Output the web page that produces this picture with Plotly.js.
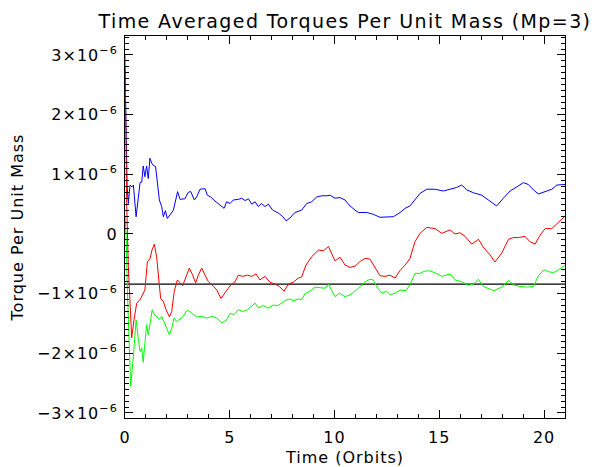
<!DOCTYPE html>
<html>
<head>
<meta charset="utf-8">
<script src="https://cdn.plot.ly/plotly-3.0.1.min.js"></script>
<style>
html,body{margin:0;padding:0;background:#fff;}
#chart{width:592px;height:467px;}
#chart text{letter-spacing:1px;}
#chart .gtitle{letter-spacing:1.4px;}
</style>
</head>
<body>
<div id="chart"></div>
<script>
// Torque values are in units of 1e-6 (axis labels carry the x10^-6)
const blueTime = [
  0, 0.05, 0.10, 0.16, 0.24, 0.33, 0.40, 0.53, 0.64, 0.72,
  0.80, 0.87, 0.95, 1.03, 1.11, 1.19, 1.27, 1.35, 1.46, 1.54,
  1.64, 1.75, 1.83, 1.93, 2.02, 2.15, 2.31, 2.42, 2.51, 2.63,
  2.86, 3.02, 3.14, 3.31, 3.42, 3.58, 3.82, 3.93, 4.09, 4.30,
  4.53, 4.73, 4.85, 5.01, 5.17, 5.41, 5.57, 5.73, 5.89, 6.05,
  6.21, 6.36, 6.52, 6.68, 6.84, 7.05, 7.32, 7.53, 7.69, 7.88,
  8.11, 8.43, 8.67, 8.91, 9.15, 9.39, 9.63, 9.79, 10.02, 10.26,
  10.50, 10.74, 10.98, 11.14, 11.54, 11.85, 12.17, 12.49, 12.81, 13.13,
  13.37, 13.60, 13.84, 14.08, 14.40, 14.80, 15.19, 15.59, 15.83, 16.07,
  16.31, 16.63, 17.03, 17.34, 17.74, 18.06, 18.38, 18.70, 19.01, 19.25,
  19.49, 19.73, 20.05, 20.37, 20.61, 21.00
];
const blueTorque = [
  2.80, 1.90, 0.80, 0.51, 0.82, 0.79, 0.82, 0.29, 0.65, 0.86,
  0.87, 1.14, 0.96, 1.14, 0.93, 1.27, 1.19, 1.15, 1.13, 0.90,
  0.57, 0.46, 0.29, 0.39, 0.26, 0.32, 0.40, 0.57, 0.71, 0.58,
  0.59, 0.70, 0.71, 0.57, 0.62, 0.75, 0.76, 0.65, 0.62, 0.55,
  0.48, 0.43, 0.54, 0.51, 0.57, 0.58, 0.60, 0.56, 0.59, 0.50,
  0.54, 0.46, 0.51, 0.46, 0.50, 0.40, 0.35, 0.29, 0.22, 0.27,
  0.36, 0.40, 0.51, 0.54, 0.62, 0.64, 0.64, 0.65, 0.60, 0.61,
  0.57, 0.47, 0.40, 0.36, 0.36, 0.33, 0.28, 0.28, 0.29, 0.36,
  0.43, 0.47, 0.57, 0.68, 0.75, 0.75, 0.72, 0.76, 0.78, 0.82,
  0.74, 0.69, 0.65, 0.57, 0.47, 0.60, 0.72, 0.79, 0.86, 0.83,
  0.74, 0.67, 0.71, 0.75, 0.82, 0.83
];
const redTime = [
  0, 0.03, 0.08, 0.16, 0.27, 0.32, 0.43, 0.56, 0.72, 0.83,
  0.95, 1.07, 1.19, 1.29, 1.40, 1.51, 1.61, 1.70, 1.83, 1.96,
  2.12, 2.23, 2.35, 2.50, 2.63, 2.75, 2.91, 3.07, 3.23, 3.37,
  3.50, 3.66, 3.82, 3.98, 4.21, 4.38, 4.58, 4.77, 5.01, 5.25,
  5.41, 5.62, 5.84, 6.05, 6.25, 6.44, 6.68, 6.92, 7.16, 7.37,
  7.59, 7.80, 8.03, 8.27, 8.43, 8.64, 8.91, 9.23, 9.47, 9.71,
  9.87, 10.02, 10.26, 10.50, 10.74, 10.98, 11.22, 11.46, 11.69, 11.93,
  12.17, 12.41, 12.65, 12.89, 13.13, 13.37, 13.60, 13.84, 14.08, 14.40,
  14.80, 15.12, 15.51, 15.75, 15.99, 16.23, 16.55, 16.87, 17.10, 17.42,
  17.66, 17.98, 18.30, 18.54, 18.77, 19.09, 19.33, 19.57, 19.81, 20.05,
  20.37, 20.61, 21.00
];
const redTorque = [
  3.00, 2.00, 0.50, -0.55, -1.27, -1.74, -1.44, -1.16, -1.10, -1.02,
  -0.94, -0.46, -0.42, -0.27, -0.17, -0.38, -0.82, -1.08, -1.13, -1.27,
  -1.39, -1.30, -0.96, -0.77, -0.82, -0.87, -0.72, -0.57, -0.69, -0.82,
  -0.69, -0.57, -0.69, -0.80, -0.87, -0.94, -1.08, -0.99, -0.87, -0.80,
  -0.69, -0.71, -0.69, -0.71, -0.67, -0.77, -0.71, -0.81, -0.84, -0.88,
  -0.96, -0.84, -0.81, -0.74, -0.72, -0.52, -0.38, -0.27, -0.28, -0.21,
  -0.35, -0.45, -0.39, -0.52, -0.56, -0.54, -0.46, -0.41, -0.42, -0.57,
  -0.70, -0.71, -0.69, -0.74, -0.61, -0.52, -0.41, -0.13, 0.01, 0.11,
  0.09, 0.01, 0.07, 0.00, 0.02, -0.04, -0.17, -0.09, -0.22, -0.35,
  -0.47, -0.32, -0.09, -0.06, -0.06, -0.04, -0.13, -0.17, -0.02, 0.09,
  0.09, 0.17, 0.30
];
const greenTime = [
  0, 0.05, 0.12, 0.20, 0.27, 0.40, 0.53, 0.64, 0.72, 0.80,
  0.87, 0.95, 1.03, 1.11, 1.19, 1.30, 1.40, 1.51, 1.64, 1.75,
  1.86, 1.99, 2.12, 2.23, 2.34, 2.47, 2.63, 2.78, 2.95, 3.10,
  3.26, 3.45, 3.66, 3.90, 4.14, 4.38, 4.62, 4.85, 5.01, 5.20,
  5.41, 5.62, 5.84, 6.21, 6.36, 6.60, 6.84, 7.08, 7.27, 7.48,
  7.72, 7.88, 8.03, 8.27, 8.43, 8.59, 8.83, 9.07, 9.31, 9.55,
  9.71, 9.87, 10.02, 10.23, 10.50, 10.74, 10.98, 11.22, 11.46, 11.69,
  11.85, 12.01, 12.25, 12.49, 12.65, 12.89, 13.13, 13.41, 13.60, 13.84,
  14.08, 14.32, 14.56, 14.80, 15.12, 15.51, 15.75, 16.07, 16.39, 16.63,
  16.87, 17.10, 17.34, 17.61, 17.98, 18.30, 18.54, 18.85, 19.17, 19.49,
  19.73, 20.00, 20.21, 20.45, 20.69, 21.00
];
const greenTorque = [
  0.30, 0.00, -1.00, -2.00, -2.55, -2.05, -1.44, -1.77, -1.97, -1.91,
  -2.15, -1.83, -1.52, -1.69, -1.52, -1.27, -1.35, -1.39, -1.43, -1.38,
  -1.47, -1.58, -1.69, -1.58, -1.41, -1.47, -1.43, -1.38, -1.28, -1.30,
  -1.35, -1.39, -1.38, -1.41, -1.38, -1.41, -1.49, -1.44, -1.33, -1.35,
  -1.27, -1.30, -1.27, -1.16, -1.24, -1.20, -1.24, -1.19, -1.20, -1.16,
  -1.10, -1.09, -1.12, -1.09, -1.10, -1.00, -0.96, -0.89, -0.90, -0.91,
  -0.84, -0.96, -1.05, -0.99, -1.05, -1.02, -0.96, -0.88, -0.80, -0.76,
  -0.77, -0.88, -0.99, -0.96, -1.02, -0.99, -0.94, -0.95, -0.85, -0.66,
  -0.66, -0.62, -0.62, -0.65, -0.71, -0.67, -0.77, -0.80, -0.86, -0.84,
  -0.76, -0.88, -0.91, -0.95, -0.89, -0.78, -0.85, -0.88, -0.89, -0.88,
  -0.70, -0.60, -0.63, -0.65, -0.60, -0.53
];
const refTime = [0, 21];
const refTorque = [-0.84, -0.84];

const xTickVals = [0, 5, 10, 15, 20];
const xTickText = ['0', '5', '10', '15', '20'];
const yTickVals = [-3, -2, -1, 0, 1, 2, 3];
const yTickText = ['\u22123\u00d710<sup>\u22126</sup>', '\u22122\u00d710<sup>\u22126</sup>', '\u22121\u00d710<sup>\u22126</sup>', '0',
                   '1\u00d710<sup>\u22126</sup>', '2\u00d710<sup>\u22126</sup>', '3\u00d710<sup>\u22126</sup>'];

const FONT = 'DejaVu Sans, sans-serif';
const traces = [
  {x: refTime, y: refTorque, mode: 'lines', line: {color: '#000000', width: 1.1}, hoverinfo: 'skip'},
  {x: blueTime, y: blueTorque, mode: 'lines', line: {color: '#0000ff', width: 1}},
  {x: greenTime, y: greenTorque, mode: 'lines', line: {color: '#00ff00', width: 1}},
  {x: redTime, y: redTorque, mode: 'lines', line: {color: '#ff0000', width: 1}}
];

const layout = {
  width: 592, height: 467,
  margin: {l: 125, r: 27, t: 36, b: 49},
  paper_bgcolor: '#ffffff', plot_bgcolor: '#ffffff',
  showlegend: false,
  font: {family: FONT, color: '#000000', size: 16},
  title: {text: 'Time Averaged Torques Per Unit Mass (Mp=3)', font: {family: FONT, size: 19, color: '#000'},
          x: 0.5, xanchor: 'center', y: 0.955, yanchor: 'middle', xref: 'paper', yref: 'container'},
  xaxis: {
    range: [0, 21], showgrid: false, zeroline: false,
    showline: true, linecolor: '#000', linewidth: 1, mirror: 'allticks',
    ticks: 'inside', ticklen: 8, tickcolor: '#000', tickwidth: 1,
    tickmode: 'array', tickvals: xTickVals, ticktext: xTickText,
    tickfont: {family: FONT, size: 16, color: '#000'}, ticklabelstandoff: 5,
    minor: {tickmode: 'linear', tick0: 0, dtick: 1, ticks: 'inside', ticklen: 4, tickcolor: '#000', showgrid: false},
    title: {text: 'Time (Orbits)', font: {family: FONT, size: 16, color: '#000'}, standoff: 6}
  },
  yaxis: {
    range: [-3.084, 3.318], showgrid: false, zeroline: false,
    showline: true, linecolor: '#000', linewidth: 1, mirror: 'allticks',
    ticks: 'inside', ticklen: 8, tickcolor: '#000', tickwidth: 1,
    tickmode: 'array', tickvals: yTickVals, ticktext: yTickText,
    tickfont: {family: FONT, size: 16, color: '#000'}, ticklabelstandoff: 3,
    minor: {tickmode: 'linear', tick0: 0, dtick: 0.1, ticks: 'inside', ticklen: 4, tickcolor: '#000', showgrid: false},
    title: {text: 'Torque Per Unit Mass', font: {family: FONT, size: 16, color: '#000'}, standoff: 16}
  }
};

Plotly.newPlot('chart', traces, layout, {displayModeBar: false, staticPlot: true});
</script>
</body>
</html>
